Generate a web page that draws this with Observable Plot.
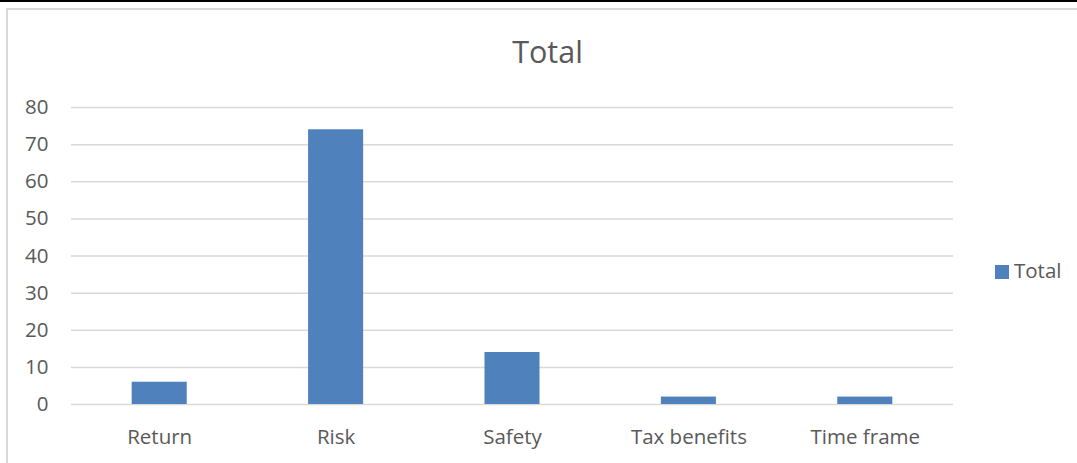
<!DOCTYPE html>
<html>
<head>
<meta charset="utf-8">
<script src="https://cdn.jsdelivr.net/npm/d3@7"></script>
<script src="https://cdn.jsdelivr.net/npm/@observablehq/plot@0.6"></script>
<style>
  html, body { margin: 0; padding: 0; background: #fff; }
  #wrap { position: relative; width: 1077px; height: 463px; overflow: hidden; font-family: "Open Sans", sans-serif; color: #595959; }
  #topbar { position: absolute; left: 0; top: 0; width: 1077px; height: 2px; background: #000; }
  #frame { position: absolute; left: 6px; top: 8px; width: 1200px; height: 600px; border-left: 2px solid #d9d9d9; border-top: 2px solid #d9d9d9; box-sizing: border-box; }
  #title { position: absolute; left: 547.5px; top: 36px; transform: translateX(-50%); font-size: 30.5px; line-height: 30px; white-space: nowrap; }
  #legend { position: absolute; left: 995px; top: 260px; font-size: 20.5px; line-height: 20px; white-space: nowrap; }
  #legend .sw { position: absolute; left: 0; top: 5px; width: 14px; height: 14px; background: #4f81bd; }
  #legend .lb { position: absolute; left: 19px; top: 0; }
  #chart { position: absolute; left: 0; top: 0; }
</style>
</head>
<body>
<div id="wrap">
  <div id="topbar"></div>
  <div id="frame"></div>
  <div id="chart"></div>
  <div id="title">Total</div>
  <div id="legend"><span class="sw"></span><span class="lb">Total</span></div>
</div>
<script>
const categories = ["Return", "Risk", "Safety", "Tax benefits", "Time frame"];
const totals = [6, 74, 14, 2, 2];
const yTicks = [0, 10, 20, 30, 40, 50, 60, 70, 80];
const seriesName = "Total";

const data = categories.map((c, i) => ({category: c, value: totals[i]}));

const chart = Plot.plot({
  width: 1077,
  height: 463,
  marginLeft: 71,
  marginRight: 124,
  marginTop: 107,
  marginBottom: 59,
  style: {fontFamily: "'Open Sans', sans-serif", fontSize: "20px", color: "#595959", background: "transparent", overflow: "visible"},
  x: {domain: categories, paddingInner: 0.688, paddingOuter: 0.344, round: false, label: null},
  y: {domain: [0, 80], label: null},
  marks: [
    Plot.ruleY(yTicks, {stroke: "#d9d9d9", strokeWidth: 1.5}),
    Plot.barY(data, {x: "category", y: "value", fill: "#4f81bd"}),
    Plot.axisY(yTicks, {tickSize: 0, tickPadding: 23, fontSize: 20.5, fill: "#595959", label: null}),
    Plot.axisX({tickSize: 0, tickPadding: 24.5, fontSize: 20.5, fill: "#595959", label: null})
  ]
});
document.getElementById("chart").appendChild(chart);
</script>
</body>
</html>
